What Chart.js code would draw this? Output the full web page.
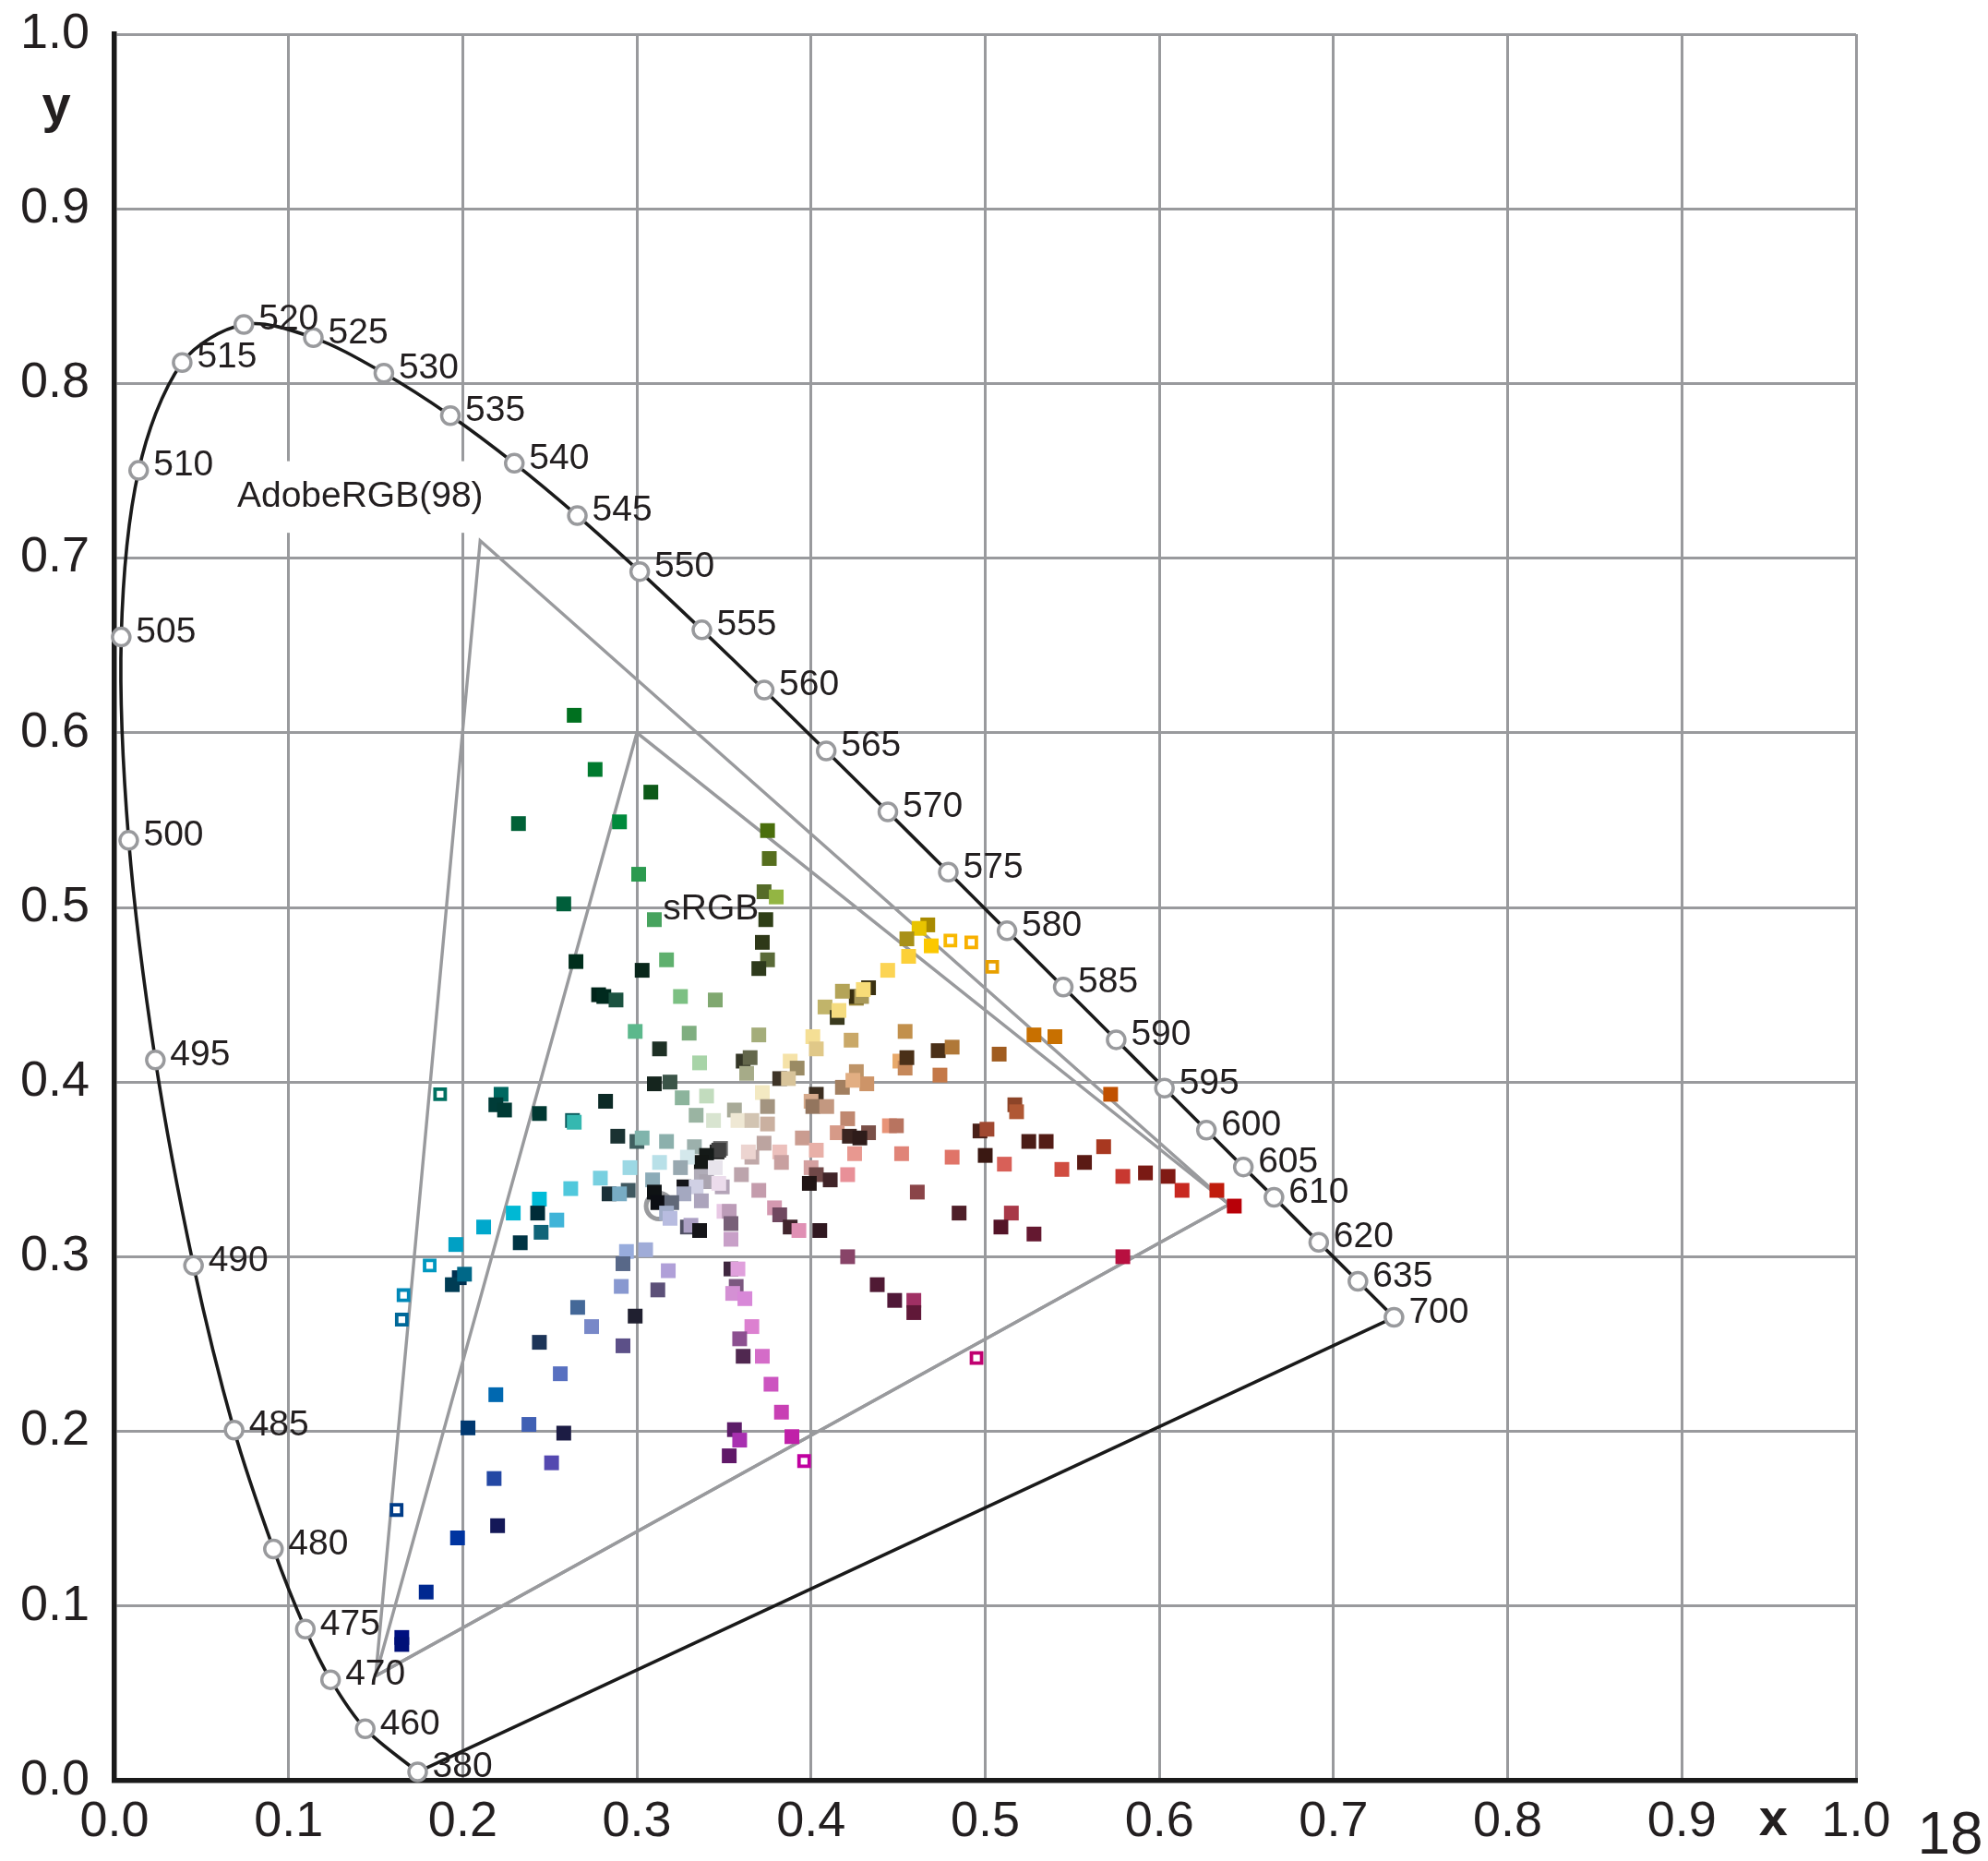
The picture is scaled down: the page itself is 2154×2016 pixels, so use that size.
<!DOCTYPE html>
<html>
<head>
<meta charset="utf-8">
<title>CIE 1931 xy</title>
<script src="https://cdn.jsdelivr.net/npm/chart.js@4.4.1/dist/chart.umd.min.js"></script>
<style>
  html, body { margin: 0; padding: 0; background: #fff; }
  #wrap { width: 2154px; height: 2016px; }
</style>
</head>
<body>
<div id="wrap"><canvas id="cie" width="2154" height="2016"></canvas></div>
<script>
/* CIE 1931 chromaticity diagram with sample colours */

const tickLabels = ['0.0', '0.1', '0.2', '0.3', '0.4', '0.5', '0.6', '0.7', '0.8', '0.9', '1.0'];

// spectral locus, labelled wavelengths (nm)
const locusNm = [380, 460, 470, 475, 480, 485, 490, 495, 500, 505, 510, 515, 520, 525, 530, 535, 540,
  545, 550, 555, 560, 565, 570, 575, 580, 585, 590, 595, 600, 605, 610, 620, 635, 700];
const locusX = [0.1741, 0.1440, 0.1241, 0.1096, 0.0913, 0.0687, 0.0454, 0.0235, 0.0082, 0.0039, 0.0139,
  0.0389, 0.0743, 0.1142, 0.1547, 0.1929, 0.2296, 0.2658, 0.3016, 0.3373, 0.3731, 0.4087, 0.4441,
  0.4788, 0.5125, 0.5448, 0.5752, 0.6029, 0.6270, 0.6482, 0.6658, 0.6915, 0.7140, 0.7347];
const locusY = [0.0050, 0.0297, 0.0578, 0.0868, 0.1327, 0.2007, 0.2950, 0.4127, 0.5384, 0.6548, 0.7502,
  0.8120, 0.8338, 0.8262, 0.8059, 0.7816, 0.7543, 0.7243, 0.6923, 0.6589, 0.6245, 0.5896, 0.5547,
  0.5202, 0.4866, 0.4544, 0.4242, 0.3965, 0.3725, 0.3514, 0.3340, 0.3083, 0.2859, 0.2653];

// gamut triangles (B, G, R, B)
const adobeX = [0.15, 0.21, 0.64, 0.15];
const adobeY = [0.06, 0.71, 0.33, 0.06];
const srgbX = [0.15, 0.30, 0.64, 0.15];
const srgbY = [0.06, 0.60, 0.33, 0.06];

// white point
const whiteX = [0.3127];
const whiteY = [0.3290];

// filled sample squares
const sampleX = [
  0.264, 0.276, 0.308, 0.232, 0.290, 0.375, 0.376, 0.301, 0.373, 0.380, 0.258, 0.310, 0.374, 0.372, 0.317,
  0.265, 0.303, 0.375, 0.370, 0.278, 0.281, 0.288, 0.325, 0.345, 0.299, 0.330, 0.370, 0.408, 0.415, 0.416,
  0.426, 0.454, 0.313, 0.336, 0.361, 0.365, 0.363, 0.401, 0.403, 0.388, 0.392, 0.423, 0.451, 0.454, 0.426,
  0.382, 0.387, 0.310, 0.319, 0.418, 0.432, 0.424, 0.372, 0.403, 0.400, 0.401, 0.409, 0.326, 0.340, 0.282,
  0.375, 0.356, 0.334, 0.344, 0.358, 0.366, 0.375, 0.244, 0.263, 0.264, 0.421, 0.395, 0.415, 0.422, 0.433,
  0.428, 0.445, 0.449, 0.289, 0.300, 0.303, 0.317, 0.333, 0.348, 0.346, 0.347, 0.340, 0.337, 0.329, 0.313,
  0.296, 0.366, 0.364, 0.373, 0.382, 0.383, 0.403, 0.425, 0.452, 0.400, 0.403, 0.411, 0.399, 0.421, 0.461,
  0.279, 0.262, 0.244, 0.295, 0.284, 0.290, 0.309, 0.325, 0.337, 0.340, 0.327, 0.310, 0.349, 0.347, 0.345,
  0.334, 0.327, 0.360, 0.370, 0.337, 0.312, 0.320, 0.317, 0.319, 0.350, 0.353, 0.354, 0.354, 0.379, 0.382,
  0.388, 0.393, 0.405, 0.329, 0.331, 0.336, 0.421, 0.254, 0.243, 0.245, 0.233, 0.229, 0.294, 0.292, 0.305,
  0.318, 0.291, 0.312, 0.266, 0.299, 0.354, 0.358, 0.357, 0.355, 0.362, 0.438, 0.448, 0.459, 0.459,
  0.467, 0.462, 0.455, 0.469, 0.456, 0.444, 0.433, 0.426, 0.429, 0.430, 0.418, 0.473, 0.481, 0.508, 0.528,
  0.540, 0.455, 0.474, 0.572, 0.517, 0.518, 0.497, 0.501, 0.525, 0.535, 0.568, 0.557, 0.544, 0.511, 0.500,
  0.481, 0.579, 0.592, 0.605, 0.613, 0.633, 0.643, 0.579, 0.528, 0.515, 0.509, 0.485,
  0.222, 0.219, 0.224, 0.212, 0.196, 0.198, 0.194, 0.201, 0.274, 0.244, 0.292,
  0.256, 0.219, 0.203, 0.238, 0.258, 0.251, 0.218, 0.220, 0.197, 0.179, 0.165, 0.165,
  0.366, 0.359, 0.361, 0.372, 0.377, 0.383, 0.356, 0.359, 0.389, 0.353
];
const sampleY = [
  0.610, 0.579, 0.566, 0.548, 0.549, 0.544, 0.528, 0.519, 0.509, 0.506, 0.502, 0.493, 0.493, 0.480, 0.470,
  0.469, 0.464, 0.470, 0.465, 0.450, 0.449, 0.447, 0.449, 0.447, 0.429, 0.428, 0.427, 0.443, 0.437, 0.441,
  0.448, 0.429, 0.419, 0.411, 0.412, 0.414, 0.405, 0.426, 0.419, 0.412, 0.408, 0.424, 0.412, 0.408, 0.406,
  0.402, 0.402, 0.399, 0.400, 0.397, 0.399, 0.401, 0.394, 0.393, 0.389, 0.386, 0.386, 0.391, 0.392, 0.389,
  0.386, 0.384, 0.381, 0.378, 0.378, 0.378, 0.376, 0.382, 0.378, 0.377, 0.379, 0.368, 0.371, 0.369, 0.371,
  0.368, 0.375, 0.375, 0.369, 0.366, 0.368, 0.366, 0.363, 0.362, 0.360, 0.361, 0.358, 0.354, 0.357, 0.354,
  0.351, 0.357, 0.360, 0.365, 0.360, 0.354, 0.361, 0.359, 0.359, 0.351, 0.347, 0.344, 0.342, 0.347, 0.337,
  0.345, 0.339, 0.333, 0.338, 0.336, 0.336, 0.344, 0.351, 0.346, 0.343, 0.340, 0.337, 0.340, 0.342, 0.351,
  0.340, 0.336, 0.347, 0.338, 0.332, 0.331, 0.331, 0.325, 0.322, 0.326, 0.326, 0.319, 0.310, 0.328, 0.324,
  0.317, 0.315, 0.315, 0.317, 0.318, 0.315, 0.300, 0.321, 0.325, 0.314, 0.308, 0.325, 0.303, 0.296, 0.304,
  0.292, 0.283, 0.281, 0.271, 0.266, 0.293, 0.293, 0.283, 0.279, 0.276, 0.284, 0.275, 0.275, 0.268,
  0.490, 0.488, 0.482, 0.478, 0.472, 0.464, 0.454, 0.449, 0.449, 0.453, 0.452, 0.418, 0.420, 0.416, 0.427,
  0.426, 0.414, 0.404, 0.393, 0.387, 0.383, 0.372, 0.373, 0.366, 0.366, 0.363, 0.354, 0.350, 0.353, 0.358,
  0.357, 0.346, 0.348, 0.346, 0.338, 0.338, 0.329, 0.300, 0.313, 0.325, 0.317, 0.325,
  0.393, 0.387, 0.384, 0.317, 0.307, 0.288, 0.284, 0.290, 0.260, 0.251, 0.249,
  0.233, 0.221, 0.202, 0.204, 0.199, 0.182, 0.173, 0.146, 0.139, 0.108, 0.082, 0.078,
  0.260, 0.253, 0.243, 0.243, 0.227, 0.211, 0.201, 0.195, 0.197, 0.186
];
const sampleColor = [
  '#00701f', '#007a2e', '#0d5a19', '#006137', '#008a3c', '#4a6e0c', '#566e1e', '#2b9a4f', '#556b28', '#93b543',
  '#005e3a', '#47a35e', '#2f3f17', '#2e3818', '#5fb06e', '#002e1c', '#08261a', '#5a6a38', '#2e3a1c', '#00241a',
  '#002a1e', '#1b5240', '#7cc083', '#80a870', '#5cb88c', '#7fae80', '#a4ad7a', '#c1b46a', '#3a3a1e', '#f5dc80',
  '#a08c40', '#c2904c', '#1e3025', '#a8d4a8', '#343626', '#63674b', '#a6ab88', '#f5df95', '#e0c888', '#f5e2a8',
  '#9a8b64', '#c9a868', '#e8a96b', '#c5885a', '#be9468', '#3e3428', '#d8c49a', '#15251e', '#3b5448', '#a27f60',
  '#cd9468', '#e2ae82', '#f3e9c2', '#3c2e20', '#d6aa8c', '#93755e', '#c39880', '#8cb49c', '#c2dcbe', '#0c2a26',
  '#a39480', '#a8aa98', '#9ab4a2', '#d8e4d0', '#efe8d4', '#d2c4b2', '#cab0a0', '#003832', '#0c5a5c', '#35b8b0',
  '#c08870', '#ca9c90', '#d69a88', '#3a2420', '#7a5048', '#2e1c1a', '#e89478', '#b87460', '#1a3232', '#406060',
  '#80b4ac', '#8cb0ac', '#9cb0ac', '#6a6a6a', '#2a2a2a', '#404040', '#151a18', '#141816', '#d4e8ec', '#b8e0e8',
  '#9cd8e4', '#c0a8a8', '#ecd4d0', '#bca4a0', '#ecc0bc', '#c8a0a0', '#e8b0a8', '#e89890', '#e08478', '#d4a0a0',
  '#704848', '#402428', '#201414', '#e89098', '#8a4448', '#78d0e0', '#50c8dc', '#00bcd8', '#405860', '#1a3038',
  '#78acc4', '#8cacb8', '#98a8b0', '#b0acb8', '#aaa4b0', '#141418', '#0e1214', '#b4a4b8', '#ecdcec', '#e8e4ec',
  '#d0d0e4', '#a4a8c0', '#bca4ac', '#c49cac', '#aca4bc', '#0c0e14', '#606878', '#a0acc8', '#b8bce0', '#e8c8e4',
  '#bc9cb8', '#786078', '#c8a0c8', '#d498b0', '#704860', '#40242c', '#e090b4', '#301820', '#505064', '#aca0c4',
  '#141418', '#884468', '#40b4d8', '#002c38', '#106478', '#003444', '#00b8d4', '#98acdc', '#586888', '#a0acd8',
  '#b0a0d8', '#8898d0', '#5c5078', '#446898', '#202030', '#402840', '#e0a0dc', '#7c5880', '#d490d4', '#d888d8',
  '#501a34', '#501838', '#a03064', '#601838',
  '#a88a00', '#e8c400', '#a89018', '#fcc800', '#fcd038', '#fcd454', '#3a3010', '#3a3010', '#a89858', '#f8dc78',
  '#b4a458', '#4a3018', '#b07838', '#a05c20', '#c87000', '#c87000', '#4a3018', '#c47848', '#c05000', '#8c4428',
  '#b05834', '#4a2018', '#a04830', '#4a1c16', '#541c16', '#a83820', '#5a1a14', '#d04c40', '#d86058', '#3a1812',
  '#e07468', '#c83830', '#7a1a14', '#801a14', '#c82820', '#c01c0c', '#b80008', '#b81040', '#641830', '#a83848',
  '#541428', '#4e1e28',
  '#006860', '#003c38', '#003a34', '#00a8cc', '#00a0c4', '#003050', '#003c54', '#006888', '#7888c8', '#1c3458',
  '#5c5088',
  '#5870c0', '#0068b0', '#003870', '#4060b4', '#1c1c44', '#5448b0', '#2448a4', '#141858', '#0034a0', '#002890',
  '#001080', '#001078',
  '#dc80d0', '#8c5090', '#502850', '#d46cc8', '#cc54c0', '#c840b4', '#5c1c68', '#a830b0', '#c020a8', '#601868'
];

// hollow sample squares
const hollowX = [0.480, 0.492, 0.504, 0.187, 0.181, 0.166, 0.165, 0.162, 0.396, 0.495];
const hollowY = [0.481, 0.480, 0.466, 0.393, 0.295, 0.278, 0.264, 0.155, 0.183, 0.242];
const hollowColor = ['#f8b800', '#f8b000', '#e8a000', '#007060', '#0098c0', '#0088b8', '#006898', '#003c88', '#c000a0', '#c00070'];

// annotation anchors (data units)
const notes = {
  adobe: { text: 'AdobeRGB(98)', x: 0.1411, y: 0.7352, box: [0.064, 0.7145, 0.218, 0.7555] },
  srgb: { text: 'sRGB', x: 0.3425, y: 0.4990 },
  page: '18'
};

const TXT = '#231f20';
const GRID = '#999a9d';
const FONT = "'Liberation Sans', Arial, Helvetica, sans-serif";

const pts = (xs, ys) => xs.map((x, i) => ({ x, y: ys[i] }));

const annotate = {
  id: 'annotate',
  beforeDatasetsDraw(chart) {
    const xs = chart.scales.x, ys = chart.scales.y, ctx = chart.ctx;
    const b = notes.adobe.box;
    const x0 = xs.getPixelForValue(b[0]), x1 = xs.getPixelForValue(b[2]);
    const y0 = ys.getPixelForValue(b[3]), y1 = ys.getPixelForValue(b[1]);
    ctx.save();
    ctx.fillStyle = '#fff';
    ctx.fillRect(x0, y0, x1 - x0, y1 - y0);
    ctx.restore();
  },
  afterDatasetsDraw(chart) {
    const xs = chart.scales.x, ys = chart.scales.y, ctx = chart.ctx, a = chart.chartArea;
    ctx.save();
    ctx.fillStyle = TXT;
    // wavelength labels
    ctx.font = '39px ' + FONT;
    ctx.textAlign = 'left';
    ctx.textBaseline = 'middle';
    locusNm.forEach((nm, i) => {
      ctx.fillText(String(nm), xs.getPixelForValue(locusX[i]) + 16, ys.getPixelForValue(locusY[i]) - 5);
    });
    // gamut names
    ctx.font = '39px ' + FONT;
    ctx.textAlign = 'center';
    ctx.fillText(notes.adobe.text, xs.getPixelForValue(notes.adobe.x), ys.getPixelForValue(notes.adobe.y));
    ctx.fillText(notes.srgb.text, xs.getPixelForValue(notes.srgb.x), ys.getPixelForValue(notes.srgb.y));
    // axis letters
    ctx.font = 'bold 56px ' + FONT;
    ctx.fillText('y', a.left - 63, a.top + 80);
    ctx.fillText('x', xs.getPixelForValue(0.9525), a.bottom + 44);
    // page number
    ctx.font = '64px ' + FONT;
    ctx.fillText(notes.page, 2113, 1990);
    ctx.restore();
  }
};

new Chart(document.getElementById('cie'), {
  type: 'scatter',
  data: {
    datasets: [
      {
        label: 'samples', order: 1,
        data: pts(sampleX, sampleY),
        pointStyle: 'rect', pointRadius: 11.3, pointBorderWidth: 0,
        pointBackgroundColor: sampleColor, pointBorderColor: sampleColor
      },
      {
        label: 'hollow', order: 2,
        data: pts(hollowX, hollowY),
        pointStyle: 'rect', pointRadius: 7.8, pointBorderWidth: 3.8,
        pointBackgroundColor: '#fff', pointBorderColor: hollowColor
      },
      {
        label: 'white', order: 3,
        data: pts(whiteX, whiteY),
        pointRadius: 14, pointBorderWidth: 5, pointBackgroundColor: '#fff', pointBorderColor: GRID
      },
      {
        label: 'markers', order: 4, clip: 20,
        data: pts(locusX, locusY),
        pointRadius: 9.5, pointBorderWidth: 3.5, pointBackgroundColor: '#fff', pointBorderColor: GRID
      },
      {
        label: 'locus', order: 5, clip: 20,
        data: pts(locusX, locusY),
        showLine: true, tension: 0.32, borderColor: '#1a1a1a', borderWidth: 3.6, pointRadius: 0
      },
      {
        label: 'purple', order: 6,
        data: [{ x: locusX[0], y: locusY[0] }, { x: locusX[locusX.length - 1], y: locusY[locusY.length - 1] }],
        showLine: true, borderColor: '#1a1a1a', borderWidth: 3.6, pointRadius: 0
      },
      {
        label: 'AdobeRGB', order: 7,
        data: pts(adobeX, adobeY),
        showLine: true, borderColor: GRID, borderWidth: 3.4, pointRadius: 0
      },
      {
        label: 'sRGB', order: 8,
        data: pts(srgbX, srgbY),
        showLine: true, borderColor: GRID, borderWidth: 3.4, pointRadius: 0
      }
    ]
  },
  options: {
    responsive: false, animation: false, devicePixelRatio: 1, events: [],
    layout: { padding: { top: 37, right: 143, left: 0, bottom: 0 } },
    plugins: { legend: { display: false }, tooltip: { enabled: false } },
    scales: {
      x: {
        type: 'linear', min: 0, max: 1,
        afterFit: s => { s.height = 87; s.paddingLeft = 0; s.paddingRight = 0; },
        grid: { color: GRID, lineWidth: 3, drawTicks: false },
        border: { color: '#1a1a1a', width: 5.5 },
        ticks: {
          stepSize: 0.1, autoSkip: false, maxRotation: 0, padding: 13, color: TXT,
          font: { family: FONT, size: 54 },
          callback: (v, i) => tickLabels[i]
        }
      },
      y: {
        type: 'linear', min: 0, max: 1,
        afterFit: s => { s.width = 124; s.paddingTop = 0; s.paddingBottom = 0; },
        grid: { color: GRID, lineWidth: 3, drawTicks: false },
        border: { color: '#1a1a1a', width: 5.5 },
        ticks: {
          stepSize: 0.1, autoSkip: false, padding: 27, color: TXT,
          font: { family: FONT, size: 54 },
          callback: (v, i) => tickLabels[i]
        }
      }
    }
  },
  plugins: [annotate]
});
</script>
</body>
</html>
